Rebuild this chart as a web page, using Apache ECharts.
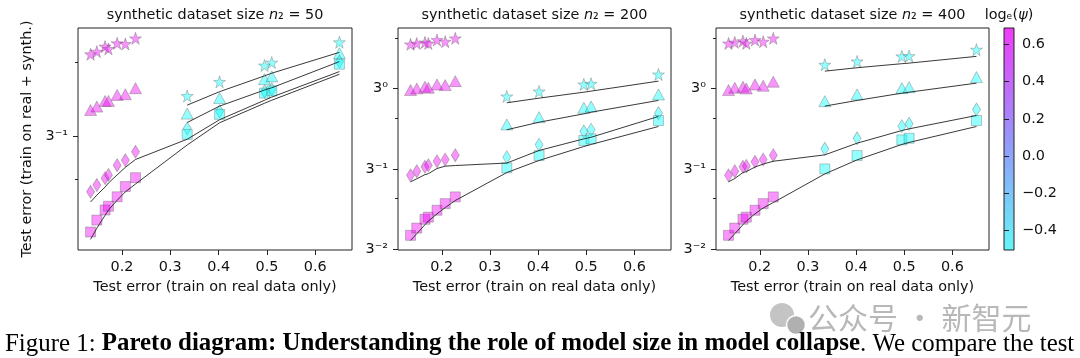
<!DOCTYPE html>
<html><head><meta charset="utf-8">
<script src="https://cdn.jsdelivr.net/npm/echarts@6/dist/echarts.min.js"></script>
<style>html,body{margin:0;padding:0;background:#fff}#c{width:1080px;height:358px}</style>
</head><body><div id="c"></div><script>
// ---- data ----
const X = [0.135,0.148,0.165,0.172,0.19,0.207,0.228,0.335,0.402,0.495,0.51,0.65];
const LOG_PSI = [0.69,0.69,0.69,0.69,0.69,0.69,0.69,-0.51,-0.51,-0.51,-0.51,-0.51];
const N2 = [50, 200, 400];

const P1_STAR = [0.718,0.736,0.772,0.755,0.796,0.791,0.834,0.485,0.554,0.646,0.664,0.804];
const P1_TRI  = [0.425,0.439,0.463,0.463,0.490,0.493,0.522,0.411,0.476,0.568,0.583,0.725];
const P1_DIA  = [0.197,0.210,0.224,0.231,0.253,0.265,0.287,0.357,0.420,0.506,0.517,0.670];
const P1_SQ   = [0.135,0.151,0.166,0.172,0.188,0.207,0.225,0.338,0.408,0.498,0.509,0.654];
const P1_STAR_FIT = [0.445,0.505,0.586,0.601,0.731];
const P1_TRI_FIT  = [0.378,0.441,0.513,0.524,0.670];
const P1_DIA_FIT  = [0.179,0.191,0.206,0.214,0.231,0.248,0.267,0.323,0.388,0.466,0.480,0.610];
const P1_SQ_FIT   = [0.126,0.140,0.158,0.166,0.182,0.197,0.212,0.306,0.377,0.453,0.466,0.595];

const P2_STAR = [1.838,1.862,1.889,1.862,1.950,1.908,1.996,0.900,0.963,1.061,1.071,1.217];
const P2_TRI  = [0.982,1.004,1.028,1.013,1.061,1.051,1.110,0.613,0.677,0.770,0.784,0.925];
const P2_DIA  = [0.305,0.323,0.343,0.350,0.370,0.379,0.402,0.391,0.464,0.556,0.570,0.715];
const P2_SQ   = [0.134,0.148,0.167,0.172,0.189,0.207,0.227,0.338,0.400,0.492,0.503,0.647];
const P2_STAR_FIT = [0.825,0.879,0.954,0.968,1.110];
const P2_TRI_FIT  = [0.570,0.632,0.709,0.725,0.852];
const P2_DIA_FIT  = [0.279,0.291,0.308,0.312,0.335,0.346,0.349,0.361,0.429,0.503,0.514,0.684];
const P2_SQ_FIT   = [0.125,0.137,0.155,0.163,0.180,0.196,0.216,0.317,0.374,0.453,0.466,0.596];

const P3_STAR = [1.862,1.889,1.923,1.862,1.950,1.908,1.996,1.390,1.454,1.559,1.565,1.709];
const P3_TRI  = [0.982,1.014,1.028,1.004,1.061,1.042,1.101,0.843,0.925,1.008,1.022,1.173];
const P3_DIA  = [0.305,0.323,0.343,0.347,0.367,0.379,0.402,0.439,0.507,0.598,0.618,0.752];
const P3_SQ   = [0.134,0.148,0.167,0.172,0.189,0.207,0.227,0.333,0.400,0.496,0.507,0.647];
const P3_STAR_FIT = [1.273,1.334,1.410,1.421,1.559];
const P3_TRI_FIT  = [0.788,0.852,0.941,0.954,1.080];
const P3_DIA_FIT  = [0.279,0.292,0.317,0.321,0.342,0.356,0.370,0.404,0.474,0.564,0.577,0.693];
const P3_SQ_FIT   = [0.125,0.137,0.155,0.163,0.180,0.195,0.210,0.311,0.377,0.466,0.479,0.596];

const X_TICKS = [0.2,0.3,0.4,0.5,0.6];
const Y_MAJOR = [1/9, 1/3, 1];
const Y_MINOR = [2/9, 2/3, 2];
const CB_TICKS = [-0.4,-0.2,0.0,0.2,0.4,0.6];
const X_RANGE = [0.109, 0.676];
const Y_RANGES = [[0.114, 0.919],[0.1096, 2.30],[0.1096, 2.30]];
const PSI_RANGE = [-0.508, 0.69];

// ---- layout ----
const GRIDS = [
  {left:78, top:28, width:274, height:222},
  {left:398, top:28, width:273, height:222},
  {left:716, top:28, width:273, height:222}
];
const FONT = 'DejaVu Sans';
const FS = 14.4;
const STAR = 'path://M50,2 L61.8,36.2 L97.6,36.2 L68.6,57.3 L79.4,91.6 L50,70.5 L20.6,91.6 L31.4,57.3 L2.4,36.2 L38.2,36.2 Z';
const SHAPES = [
  {symbol: STAR, size: 12},
  {symbol: 'triangle', size: [12, 11]},
  {symbol: 'diamond', size: [8, 13]},
  {symbol: 'rect', size: 10}
];
const PANELS = [
  {pts:[P1_STAR,P1_TRI,P1_DIA,P1_SQ], fits:[P1_STAR_FIT,P1_TRI_FIT,P1_DIA_FIT,P1_SQ_FIT]},
  {pts:[P2_STAR,P2_TRI,P2_DIA,P2_SQ], fits:[P2_STAR_FIT,P2_TRI_FIT,P2_DIA_FIT,P2_SQ_FIT]},
  {pts:[P3_STAR,P3_TRI,P3_DIA,P3_SQ], fits:[P3_STAR_FIT,P3_TRI_FIT,P3_DIA_FIT,P3_SQ_FIT]}
];

function supExp(e){
  const m = {'0':'⁰','1':'¹','2':'²','-':'⁻'};
  return String(e).split('').map(c=>m[c]).join('');
}
const fmtPow = v => '3' + supExp(Math.round(Math.log(v)/Math.log(3)));

const grid = [], xAxis = [], yAxis = [], series = [], scatterIdx = [];
PANELS.forEach((p, i) => {
  grid.push(Object.assign({show:true, borderColor:'#222', borderWidth:1, backgroundColor:'transparent'}, GRIDS[i]));
  xAxis.push({type:'value', gridIndex:i, min:X_RANGE[0], max:X_RANGE[1],
    axisLine:{show:false}, splitLine:{show:false},
    axisTick:{show:true, length:5, customValues:X_TICKS, lineStyle:{color:'#222'}},
    axisLabel:{customValues:X_TICKS, formatter:v=>v.toFixed(1), margin:10, fontSize:FS, fontFamily:FONT, color:'#111'}});
  yAxis.push({type:'log', logBase:3, gridIndex:i, min:Y_RANGES[i][0], max:Y_RANGES[i][1], position:'left',
    axisLine:{show:false}, splitLine:{show:false},
    axisTick:{show:true, length:5, customValues:Y_MAJOR, lineStyle:{color:'#222'}},
    axisLabel:{customValues:Y_MAJOR, formatter:fmtPow, margin:10, fontSize:FS, fontFamily:FONT, color:'#111'}});
  yAxis.push({type:'log', logBase:3, gridIndex:i, min:Y_RANGES[i][0], max:Y_RANGES[i][1], position:'left',
    axisLine:{show:false}, splitLine:{show:false},
    axisTick:{show:true, length:3, customValues:Y_MINOR, lineStyle:{color:'#222'}},
    axisLabel:{show:false}});
  p.pts.forEach((arr, s) => {
    scatterIdx.push(series.length);
    series.push({type:'scatter', xAxisIndex:i, yAxisIndex:2*i, symbol:SHAPES[s].symbol, symbolSize:SHAPES[s].size,
      data: X.map((x,k)=>[x, arr[k], LOG_PSI[k]]),
      itemStyle:{opacity:0.42, borderColor:'#555', borderWidth:0.8}, z:2, silent:true});
  });
  p.fits.forEach(fit => {
    const xs = fit.length === X.length ? X : X.slice(X.length - fit.length);
    series.push({type:'line', xAxisIndex:i, yAxisIndex:2*i, showSymbol:false, symbol:'none',
      data: xs.map((x,k)=>[x, fit[k]]), lineStyle:{color:'#222', width:0.9}, z:3, silent:true});
  });
});
// colorbar
grid.push({show:true, left:1004, top:28, width:10, height:222, borderColor:'#222', borderWidth:1,
  backgroundColor:{type:'linear', x:0, y:0, x2:0, y2:1, colorStops:[
    {offset:0, color:'rgb(240,60,248)'}, {offset:0.5, color:'rgb(150,150,250)'}, {offset:1, color:'rgb(100,246,246)'}]}});
xAxis.push({type:'value', gridIndex:3, min:0, max:1, show:false});
yAxis.push({type:'value', gridIndex:3, min:PSI_RANGE[0], max:PSI_RANGE[1], position:'right',
  axisLine:{show:false}, splitLine:{show:false},
  axisTick:{show:true, length:5, customValues:CB_TICKS, lineStyle:{color:'#222'}},
  axisLabel:{customValues:CB_TICKS, formatter:v=>(v<-1e-9?'\u2212':'')+Math.abs(v).toFixed(1), margin:8, fontSize:FS, fontFamily:FONT, color:'#111'}});

const graphic = [];
GRIDS.forEach((g, i) => {
  const cx = g.left + g.width/2;
  graphic.push({type:'text', x:cx, y:15, style:{
    text:'{a|synthetic dataset size }{i|n}{a|₂ = ' + N2[i] + '}',
    align:'center', verticalAlign:'middle',
    rich:{a:{fontSize:FS, fontFamily:FONT, fill:'#111'}, i:{fontSize:FS, fontFamily:FONT, fontStyle:'italic', fill:'#111'}}}});
  graphic.push({type:'text', x:cx, y:287, style:{text:'Test error (train on real data only)', align:'center', verticalAlign:'middle', fontSize:FS, fontFamily:FONT, fill:'#111'}});
});
graphic.push({type:'text', x:27, y:139, rotation:Math.PI/2, style:{text:'Test error (train on real + synth.)', align:'center', verticalAlign:'middle', fontSize:FS, fontFamily:FONT, fill:'#111'}});
graphic.push({type:'text', x:1009, y:15, style:{text:'{a|logₑ(}{i|ψ}{a|)}', align:'center', verticalAlign:'middle',
  rich:{a:{fontSize:FS, fontFamily:FONT, fill:'#111'}, i:{fontSize:FS, fontFamily:FONT, fontStyle:'italic', fill:'#111'}}}});
// watermark
graphic.push({type:'circle', shape:{cx:782, cy:315, r:12}, style:{fill:'#c4c4c4'}});
graphic.push({type:'circle', shape:{cx:796, cy:325, r:9.5}, style:{fill:'#b0b0b0', stroke:'#fff', lineWidth:1.5}});
graphic.push({type:'text', x:808, y:318, style:{text:'公众号 · 新智元', align:'left', verticalAlign:'middle', fontSize:30, fontFamily:'Noto Sans CJK SC', fill:'#b8b8b8', letterSpacing:8}});
// caption
graphic.push({type:'text', x:5, y:344, style:{
  text:'{r|Figure 1: }{b|Pareto diagram: Understanding the role of model size in model collapse}{r|. We compare the test}',
  align:'left', verticalAlign:'middle',
  rich:{r:{fontSize:24.9, fontFamily:'Liberation Serif', fill:'#000'}, b:{fontSize:24.9, fontFamily:'Liberation Serif', fontWeight:'bold', fill:'#000'}}}});

const chart = echarts.init(document.getElementById('c'), null, {renderer:'canvas'});
chart.setOption({
  animation:false, backgroundColor:'#fff',
  grid, xAxis, yAxis, series, graphic,
  visualMap:[{type:'continuous', show:false, min:PSI_RANGE[0], max:PSI_RANGE[1], dimension:2, seriesIndex:scatterIdx,
    inRange:{color:['#00ffff','#ee00f5']}}]
});
</script></body></html>
